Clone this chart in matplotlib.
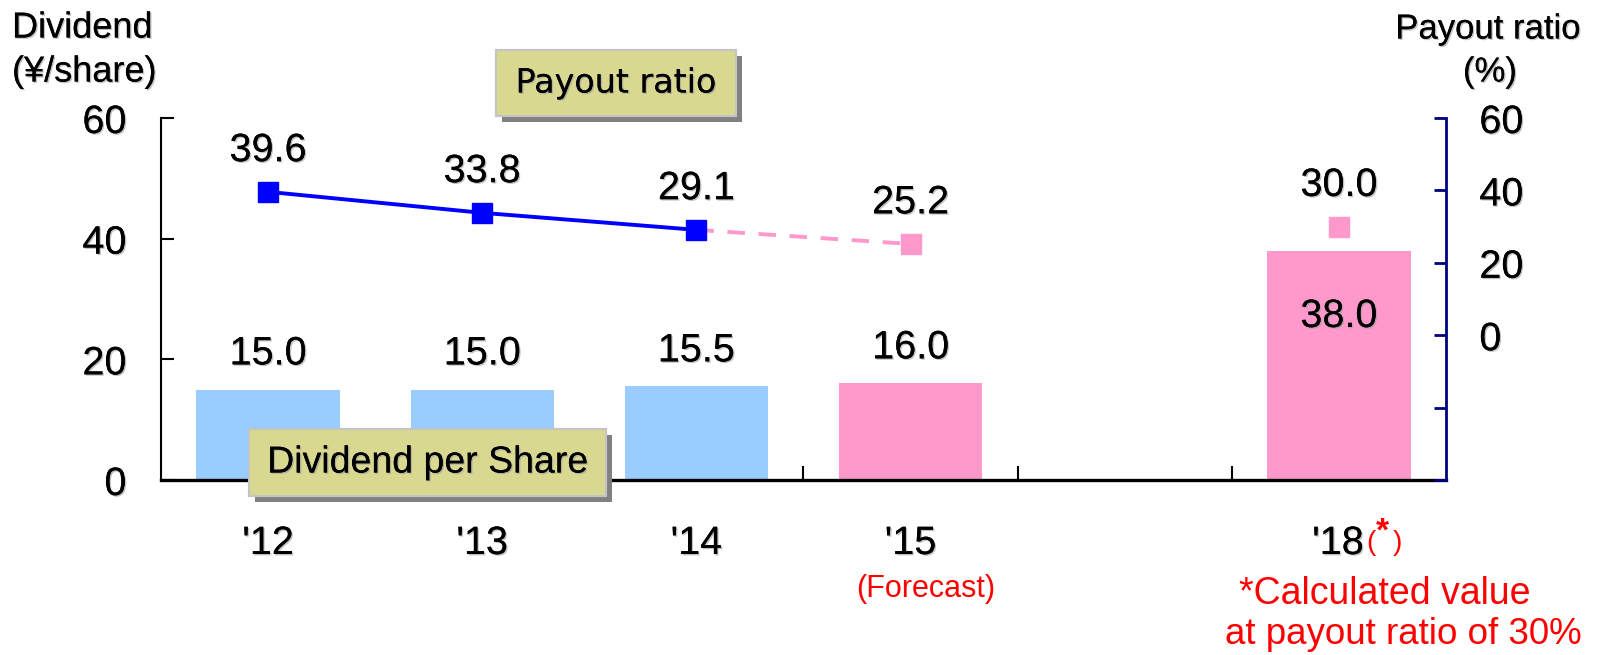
import matplotlib
matplotlib.use('Agg')
import matplotlib.pyplot as plt
import matplotlib.patheffects as pe
from matplotlib.patches import Rectangle
from matplotlib.transforms import blended_transform_factory
from matplotlib.ticker import FixedLocator

# ---- data ----
years = ["'12", "'13", "'14", "'15", "'18"]
positions = [0, 1, 2, 3, 5]
dividend = [15.0, 15.0, 15.5, 16.0, 38.0]
payout = [39.6, 33.8, 29.1, 25.2, 30.0]
bar_colors = ['#99CCFF', '#99CCFF', '#99CCFF', '#FF99CC', '#FF99CC']
left_ticks = [0, 20, 40, 60]
right_ticks = [-40, -20, 0, 20, 40, 60]
right_labels = ['', '', '0', '20', '40', '60']

plt.rcParams['font.family'] = ['Liberation Sans', 'DejaVu Sans']

W, H = 1605, 655
def fx(p):
    return p / W
def fy(p):
    return 1 - p / H

SH = [pe.withSimplePatchShadow(offset=(1, -1), shadow_rgbFace='#9A9A9A', alpha=0.6), pe.Normal()]
NUM = 28.5

fig = plt.figure(figsize=(W / 100, H / 100), dpi=100)
ax = fig.add_axes([fx(161), fy(480), (1446 - 161) / W, (480 - 118) / H])
ax2 = ax.twinx()

BLUE = '#0000FF'
PINK = '#FF99CC'
NAVY = '#000080'

# bars
ax.bar(positions, dividend, width=0.67, color=bar_colors, zorder=2)
ax.set_xlim(-0.5, 5.5)
ax.set_ylim(0, 60)
ax2.set_ylim(-40, 60)

# bar labels
for x, v in zip(positions, dividend):
    off = -47 if x == 5 else 26
    ax.annotate(f'{v:.1f}', (x, v), xytext=(0, off), textcoords='offset points',
                ha='center', va='center', fontsize=NUM, path_effects=SH, zorder=4)

# payout line
ax2.plot(positions[2:4], payout[2:4], color=PINK, lw=2.8, ls=(0, (4.5, 3.5)), zorder=2)
ax2.plot(positions[:3], payout[:3], color=BLUE, lw=2.8, marker='s', ms=15, zorder=3)
ax2.plot(positions[3:], payout[3:], ls='none', color=PINK, marker='s', ms=15, zorder=3)
for x, v in zip(positions, payout):
    ax2.annotate(f'{v:.1f}', (x, v), xytext=(0, 30), textcoords='offset points',
                 ha='center', va='center', fontsize=NUM, path_effects=SH, zorder=4)

# spines
for s in ['top', 'right']:
    ax.spines[s].set_visible(False)
for s in ['top', 'left', 'bottom']:
    ax2.spines[s].set_visible(False)
ax.spines['left'].set_linewidth(1.5)
ax.spines['bottom'].set_linewidth(2.4)
ax2.spines['right'].set_color(NAVY)
ax2.spines['right'].set_linewidth(2.0)

# ticks
ax.set_yticks(left_ticks)
ax.tick_params(axis='y', direction='in', length=9, width=1.5, labelsize=NUM, pad=25)
ax2.set_yticks(right_ticks)
ax2.set_yticklabels(right_labels)
ax2.tick_params(axis='y', direction='in', length=9, width=2.0, color=NAVY, labelsize=NUM, pad=24)
for lab in ax.get_yticklabels() + ax2.get_yticklabels():
    lab.set_path_effects(SH)

ax.set_xticks([])
ax.xaxis.set_minor_locator(FixedLocator([0.5, 1.5, 2.5, 3.5, 4.5]))
ax.tick_params(axis='x', which='minor', direction='in', length=10, width=1.5)

# category labels
bt = blended_transform_factory(ax.transData, fig.transFigure)
for x, lab in zip(positions, years):
    if x == 5:
        ax.annotate(lab, (x, fy(543)), xycoords=bt, xytext=(18, 0), textcoords='offset points',
                    ha='right', va='center', fontsize=NUM, path_effects=SH, annotation_clip=False)
        ax.annotate('(', (x, fy(543)), xycoords=bt, xytext=(19.5, 0), textcoords='offset points',
                    ha='left', va='center', fontsize=20, color='red', annotation_clip=False)
        ax.annotate('*', (x, fy(532)), xycoords=bt, xytext=(31, 0), textcoords='offset points',
                    ha='center', va='center', fontsize=24, color='red', fontweight='bold',
                    annotation_clip=False)
        ax.annotate(')', (x, fy(543)), xycoords=bt, xytext=(38.5, 0), textcoords='offset points',
                    ha='left', va='center', fontsize=20, color='red', annotation_clip=False)
    else:
        ax.annotate(lab, (x, fy(543)), xycoords=bt, xytext=(0, 0), textcoords='offset points',
                    ha='center', va='center', fontsize=NUM, path_effects=SH, annotation_clip=False)
ax.annotate('(Forecast)', (positions[3], fy(589)), xycoords=bt, xytext=(11, 0),
            textcoords='offset points', ha='center', va='center', fontsize=22, color='red',
            annotation_clip=False)

# axis titles
fig.text(fx(12), fy(28), 'Dividend', ha='left', va='center', fontsize=26, path_effects=SH)
fig.text(fx(12), fy(72), '(¥/share)', ha='left', va='center', fontsize=26, path_effects=SH)
fig.text(fx(1488), fy(29), 'Payout ratio', ha='center', va='center', fontsize=25, path_effects=SH)
fig.text(fx(1490), fy(72), '(%)', ha='center', va='center', fontsize=25, path_effects=SH)

# footnote
fig.text(fx(1385), fy(594), '*Calculated value', ha='center', va='center', fontsize=27, color='red')
fig.text(fx(1403), fy(635), 'at payout ratio of 30%', ha='center', va='center', fontsize=26.5, color='red')

# legend-like boxes
def box(x0, y0, x1, y1, text, family, size):
    r = Rectangle((fx(x0), fy(y1)), (x1 - x0) / W, (y1 - y0) / H, transform=fig.transFigure,
                  facecolor='#D9D891', edgecolor='#C4C4C4', lw=1.5, zorder=10,
                  path_effects=[pe.withSimplePatchShadow(offset=(4, -4), shadow_rgbFace='#808080',
                                                         alpha=1.0), pe.Normal()])
    fig.add_artist(r)
    fig.text(fx((x0 + x1) / 2), fy((y0 + y1) / 2), text, ha='center', va='center',
             fontsize=size, family=family, zorder=11, path_effects=SH)

box(496, 50, 736, 116, 'Payout ratio', ['DejaVu Sans'], 24)
box(249, 429, 606, 496, 'Dividend per Share', ['Liberation Sans'], 27)

fig.savefig('out.png', dpi=100)
